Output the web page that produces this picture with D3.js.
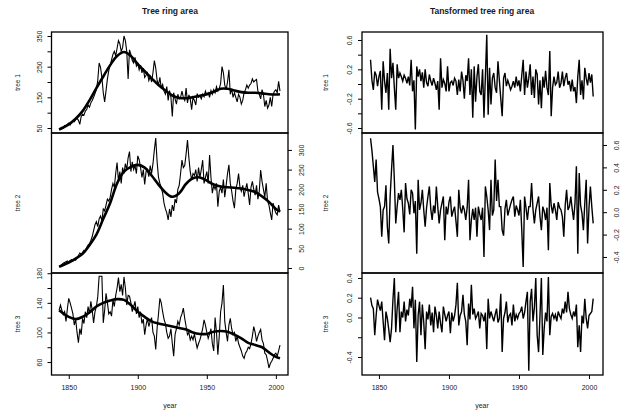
<!DOCTYPE html>
<meta charset='utf-8'>
<head>
  <title>Tree ring area</title>
  <style>
    body { margin: 0; background: #fff; }
    svg text { font-family: 'Liberation Sans', Arial, sans-serif; fill: #1a1a1a; }
  </style>
</head>
<body>
<div id='chart'></div>
<script src='https://d3js.org/d3.v7.min.js'></script>
<script>

// ring area, one value per year from 1843 to 2003
var tree1 = [
  44, 48, 52, 50, 58, 55, 62,
  66, 60, 68, 72, 70, 78, 82, 75, 62, 88,
  95, 92, 105, 110, 125, 118, 132, 140, 150, 162,
  175, 205, 262, 248, 215, 165, 135, 172, 210, 238,
  255, 272, 290, 300, 285, 310, 335, 325, 300, 312,
  350, 335, 300, 210, 305, 290, 270, 262, 280, 252,
  260, 240, 255, 230, 245, 215, 222, 230, 205, 218,
  200, 230, 270, 245, 205, 190, 215, 180, 192, 170,
  160, 185, 140, 172, 150, 88, 165, 145, 128, 160,
  145, 150, 170, 150, 140, 180, 132, 158, 145, 110,
  150, 140, 125, 162, 150, 155, 145, 160, 152, 170,
  158, 165, 150, 172, 160, 175, 165, 185, 170, 178,
  195, 250, 230, 190, 175, 200, 240, 160, 178, 150,
  165, 150, 135, 160, 150, 128, 140, 165, 175, 190,
  180, 190, 195, 210, 200, 205, 208, 170, 160, 145,
  175, 160, 120, 140, 115, 125, 150, 120, 160, 170,
  175, 165, 202, 170
];
var tree2 = [
  3, 6, 9, 12, 14, 16, 18,
  15, 19, 21, 18, 22, 20, 26, 32, 38, 35,
  40, 45, 42, 52, 58, 62, 70, 80, 95, 110,
  118, 105, 125, 132, 120, 150, 145, 160, 175, 170,
  180, 200, 215, 205, 240, 268, 220, 245, 215, 255,
  240, 265, 250, 280, 296, 245, 270, 250, 260, 240,
  285, 275, 255, 230, 250, 212, 245, 250, 232, 260,
  240, 265, 300, 330, 270, 230, 215, 205, 190, 165,
  150, 140, 122, 150, 130, 160, 145, 175, 165, 200,
  210, 240, 274, 255, 260, 290, 325, 280, 245, 224,
  240, 235, 250, 220, 255, 230, 250, 274, 215, 230,
  245, 215, 287, 230, 190, 210, 200, 215, 156, 195,
  205, 190, 225, 180, 210, 240, 262, 215, 195, 170,
  152, 200, 215, 240, 205, 195, 210, 181, 200, 215,
  190, 160, 205, 220, 200, 185, 210, 175, 195, 249,
  220, 200, 180, 215, 170, 160, 140, 122, 165, 150,
  140, 135, 160, 143
];
var tree3 = [
  130, 137, 130, 124, 128, 115, 132,
  146, 140, 133, 125, 110, 118, 100, 86, 105, 97,
  119, 112, 128, 120, 135, 125, 142, 130, 113, 128,
  135, 148, 176, 176, 176, 113, 130, 153, 140, 125,
  128, 122, 144, 135, 150, 160, 174, 155, 165, 150,
  175, 160, 137, 150, 149, 140, 128, 135, 142, 125,
  135, 120, 128, 112, 118, 97, 110, 119, 108, 115,
  120, 100, 95, 77, 106, 125, 146, 140, 128, 118,
  112, 100, 92, 95, 105, 85, 68, 97, 105, 115,
  110, 120, 125, 133, 119, 108, 97, 100, 90, 95,
  90, 98, 88, 79, 85, 90, 97, 105, 117, 110,
  100, 92, 98, 105, 85, 75, 120, 100, 70, 95,
  128, 140, 164, 115, 100, 88, 110, 119, 105, 97,
  100, 88, 95, 85, 80, 75, 68, 65, 72, 75,
  80, 78, 85, 95, 108, 100, 88, 95, 100, 104,
  90, 85, 72, 70, 62, 52, 58, 61, 65, 70,
  72, 68, 75, 83
];

// smoothed curves, read at these years
var smoothYears = [1843, 1850, 1855, 1860, 1865, 1870, 1875, 1880, 1885, 1890, 1895,
  1900, 1905, 1910, 1915, 1920, 1925, 1930, 1935, 1940, 1945, 1950, 1955,
  1960, 1965, 1970, 1975, 1980, 1985, 1990, 1995, 2000, 2003];
var tree1Smooth = [45, 62, 80, 105, 140, 180, 218, 255, 285, 298, 285,
  258, 235, 212, 190, 172, 156, 148, 147, 150, 155, 160, 168,
  178, 178, 172, 167, 165, 165, 163, 160, 159, 160];
var tree2Smooth = [3, 14, 24, 36, 58, 85, 125, 165, 215, 245, 257,
  262, 255, 235, 212, 192, 181, 190, 214, 228, 230, 222, 212,
  207, 205, 204, 202, 198, 193, 182, 168, 150, 143];
var tree3Smooth = [130, 121, 118, 121, 127, 135, 140, 143, 145, 144, 137,
  128, 121, 115, 112, 110, 108, 106, 104, 100, 98, 98, 101,
  102, 101, 97, 92, 86, 83, 80, 73, 67, 65];

// transformed series, one value per year from 1844 to 2003
var trans1 = [
  0.33, 0.05, -0.08, 0.17, 0.12, -0.03,
  0.10, 0.18, -0.35, 0.31, 0.04, -0.12, 0.15, -0.35, 0.48, 0.08,
  0.29, -0.05, -0.35, 0.27, 0.08, 0.15, 0.10, 0.04, 0.12, 0.08,
  0.01, 0.10, -0.02, 0.33, -0.10, 0.05, -0.62, 0.24, 0.10, 0.20,
  0.04, 0.16, -0.05, 0.20, 0.02, -0.03, 0.13, 0.04, -0.02, 0.08,
  0.01, -0.08, 0.04, -0.35, 0.35, -0.05, 0.06, 0.01, -0.10, 0.24,
  -0.10, 0.02, 0.04, -0.02, 0.08, 0.04, -0.15, 0.06, -0.10, 0.17,
  0.05, -0.20, 0.12, 0.04, 0.35, -0.15, 0.20, -0.46, 0.24, -0.24,
  0.10, 0.27, -0.10, -0.15, 0.20, -0.46, 0.10, 0.67, -0.42, 0.22,
  -0.28, 0.08, 0.15, -0.05, -0.12, 0.31, 0.05, -0.20, -0.44, 0.08,
  0.15, -0.03, 0.05, -0.01, -0.08, -0.03, 0.04, -0.05, 0.10, -0.03,
  0.05, -0.10, 0.12, 0.33, -0.15, 0.17, -0.05, 0.08, 0.27, -0.15,
  0.10, -0.19, 0.20, 0.13, -0.28, 0.05, -0.33, 0.10, -0.05, 0.18,
  -0.05, -0.15, 0.45, -0.44, -0.05, 0.10, -0.01, 0.02, 0.17, -0.05,
  0.01, 0.17, -0.03, 0.08, 0.15, -0.01, 0.04, -0.10, 0.06, -0.10,
  -0.04, -0.26, 0.10, 0.33, -0.15, 0.05, -0.21, 0.22, 0.08, -0.02,
  0.15, 0.02, 0.13, -0.17
];
var trans2 = [
  0.66, 0.55, 0.41, 0.27, 0.47, 0.18,
  0.12, 0.05, -0.22, 0.02, 0.05, 0.24, -0.13, -0.28, 0.14, 0.38,
  0.60, 0.29, -0.10, 0.05, 0.17, 0.11, 0.20, 0.03, -0.18, 0.26,
  0.12, 0.08, -0.02, 0.20, 0.17, -0.01, 0.10, -0.37, 0.29, 0.02,
  0.08, 0.20, 0.02, -0.13, 0.04, 0.14, 0.23, 0.03, -0.07, 0.06,
  -0.01, 0.23, 0.05, -0.10, 0.02, 0.08, 0.14, -0.25, 0.05, -0.02,
  0.09, 0.14, -0.04, 0.01, 0.05, -0.08, -0.22, 0.20, 0.04, -0.01,
  0.06, 0.02, -0.07, 0.04, 0.29, -0.25, -0.07, 0.03, -0.07, 0.04,
  -0.22, 0.05, -0.02, -0.07, 0.04, -0.40, 0.23, 0.14, 0.02, -0.16,
  0.29, -0.03, 0.02, 0.47, 0.10, 0.29, 0.05, 0.05, -0.16, -0.21,
  0.03, 0.11, -0.03, 0.02, 0.07, 0.11, 0.14, -0.04, 0.06, 0.02,
  -0.03, 0.11, -0.16, -0.49, 0.14, 0.04, -0.07, 0.05, 0.05, 0.26,
  0.03, -0.10, 0.02, 0.08, 0.14, -0.04, -0.16, 0.05, 0.01, -0.07,
  0.04, -0.34, 0.26, 0.06, -0.01, 0.08, 0.02, -0.07, 0.09, 0.04,
  0.02, -0.04, -0.22, 0.06, 0.20, 0.02, 0.05, 0.14, 0.03, -0.07,
  0.08, 0.41, -0.37, 0.35, 0.06, -0.01, -0.16, 0.08, 0.29, -0.28,
  0.04, 0.23, 0.05, -0.10
];
var trans3 = [
  0.20, 0.12, 0.09, -0.18, 0.02, 0.18,
  0.12, 0.07, 0.16, -0.04, -0.23, 0.06, -0.01, -0.12, -0.25, -0.11,
  0.18, 0.40, -0.15, 0.09, 0.26, -0.15, 0.06, 0.00, 0.16, -0.04,
  0.08, 0.02, 0.19, 0.10, 0.31, -0.11, 0.18, -0.45, 0.02, 0.16,
  -0.18, 0.13, -0.05, -0.32, 0.06, -0.02, 0.13, -0.08, 0.05, -0.15,
  0.11, 0.02, -0.11, 0.06, -0.06, -0.15, 0.11, 0.03, -0.04, 0.02,
  0.06, -0.16, 0.05, -0.04, 0.02, 0.13, 0.35, -0.08, 0.02, 0.06,
  0.23, 0.03, -0.04, -0.28, 0.14, -0.02, 0.33, 0.03, 0.09, -0.01,
  0.02, 0.06, -0.11, 0.04, 0.02, -0.04, 0.05, -0.32, 0.19, -0.01,
  0.06, 0.01, -0.04, 0.03, 0.09, -0.05, -0.01, 0.24, -0.35, -0.01,
  0.05, 0.16, -0.05, 0.02, 0.04, -0.08, 0.13, -0.04, 0.03, -0.01,
  0.04, 0.06, 0.11, -0.01, 0.05, 0.16, 0.26, -0.54, 0.16, 0.29,
  -0.04, 0.10, 0.40, -0.18, -0.35, 0.02, 0.40, -0.38, -0.11, 0.05,
  -0.04, 0.41, -0.18, 0.01, 0.04, -0.01, 0.03, -0.04, 0.06, 0.02,
  -0.01, 0.09, 0.04, 0.16, 0.05, 0.26, 0.09, 0.03, -0.01, 0.06,
  0.01, 0.13, -0.30, -0.08, -0.35, 0.02, -0.06, 0.19, -0.01, -0.11,
  0.02, 0.04, 0.06, 0.19
];

var rawYears = d3.range(1843, 2004),
    transYears = d3.range(1844, 2004);

// axis ticks (all) and which of them carry a label
var yearTicks = [1850, 1900, 1950, 2000];
var tree1Ticks = [50, 100, 150, 200, 250, 300, 350], tree1Labels = [50, 150, 250, 350];
var tree2Ticks = [0, 50, 100, 150, 200, 250, 300], tree2Labels = tree2Ticks;
var tree3Ticks = [60, 80, 100, 120, 140, 160, 180], tree3Labels = [60, 100, 140, 180];
var trans1Ticks = [-0.6, -0.4, -0.2, 0, 0.2, 0.4, 0.6], trans1Labels = [-0.6, -0.2, 0.2, 0.6];
var trans2Ticks = [-0.4, -0.2, 0, 0.2, 0.4, 0.6], trans2Labels = trans2Ticks;
var trans3Ticks = [-0.4, -0.2, 0, 0.2, 0.4], trans3Labels = [-0.4, 0, 0.2, 0.4];

var titles = ['Tree ring area', 'Tansformed tree ring area'];
var rowNames = ['tree 1', 'tree 2', 'tree 3'];

var width = 625, height = 412;
var cols = [
  { x0: 51.5, x1: 288, domain: [1837.5, 2008.8], cx: 170, nameX: 20 },
  { x0: 362, x1: 603, domain: [1837.9, 2010], cx: 482, nameX: 328 }
];
var rows = [[32, 133], [133, 273], [273, 375]];

var svg = d3.select('#chart').append('svg')
    .attr('width', width)
    .attr('height', height);

var panels = [
  { col: 0, row: 0, domain: [33.7, 363], values: tree1, years: rawYears, smooth: tree1Smooth,
    side: 'left', ticks: tree1Ticks, labels: tree1Labels, fmt: d3.format('d') },
  { col: 0, row: 1, domain: [-12.7, 343], values: tree2, years: rawYears, smooth: tree2Smooth,
    side: 'right', ticks: tree2Ticks, labels: tree2Labels, fmt: d3.format('d') },
  { col: 0, row: 2, domain: [42.5, 180.3], values: tree3, years: rawYears, smooth: tree3Smooth,
    side: 'left', ticks: tree3Ticks, labels: tree3Labels, fmt: d3.format('d') },
  { col: 1, row: 0, domain: [-0.668, 0.709], values: trans1, years: transYears,
    side: 'left', ticks: trans1Ticks, labels: trans1Labels, fmt: oneDec },
  { col: 1, row: 1, domain: [-0.543, 0.707], values: trans2, years: transYears,
    side: 'right', ticks: trans2Ticks, labels: trans2Labels, fmt: oneDec },
  { col: 1, row: 2, domain: [-0.582, 0.45], values: trans3, years: transYears,
    side: 'left', ticks: trans3Ticks, labels: trans3Labels, fmt: oneDec }
];

function oneDec(d) { return d.toFixed(1); }

panels.forEach(function(p) {
  var c = cols[p.col], r = rows[p.row];
  var x = d3.scaleLinear().domain(c.domain).range([c.x0, c.x1]),
      y = d3.scaleLinear().domain(p.domain).range([r[1], r[0]]);

  var line = d3.line()
      .x(function(d, i) { return x(p.years[i]); })
      .y(function(d) { return y(d); });

  svg.append('path')
      .datum(p.values)
      .attr('d', line)
      .attr('fill', 'none')
      .attr('stroke', '#000')
      .attr('stroke-width', p.col ? 1.4 : 1.1);

  if (p.smooth) {
    var smoothLine = d3.line()
        .x(function(d, i) { return x(smoothYears[i]); })
        .y(function(d) { return y(d); })
        .curve(d3.curveCatmullRom);
    svg.append('path')
        .datum(p.smooth)
        .attr('d', smoothLine)
        .attr('fill', 'none')
        .attr('stroke', '#000')
        .attr('stroke-width', 2.6);
  }

  svg.append('rect')
      .attr('x', c.x0).attr('y', r[0])
      .attr('width', c.x1 - c.x0).attr('height', r[1] - r[0])
      .attr('fill', 'none').attr('stroke', '#000').attr('stroke-width', 1.3);

  var left = p.side == 'left';
  var axis = (left ? d3.axisLeft(y) : d3.axisRight(y))
      .tickValues(p.ticks)
      .tickSize(4)
      .tickFormat(function(d) { return p.labels.indexOf(d) >= 0 ? p.fmt(d) : ''; });

  var g = svg.append('g')
      .attr('transform', 'translate(' + (left ? c.x0 : c.x1) + ',0)')
      .call(axis);
  g.select('.domain').remove();
  g.selectAll('line').attr('stroke', '#000');
  g.selectAll('text')
      .attr('transform', 'rotate(-90)')
      .attr('x', 0)
      .attr('dy', 0)
      .attr('y', left ? -10 : 16)
      .style('text-anchor', 'middle')
      .style('font-size', '7px');

  svg.append('text')
      .attr('transform', 'translate(' + c.nameX + ',' + ((r[0] + r[1]) / 2) + ') rotate(-90)')
      .attr('text-anchor', 'middle')
      .style('font-size', '6.5px')
      .text(rowNames[p.row]);

  if (p.row == 2) {
    var gx = svg.append('g')
        .attr('transform', 'translate(0,' + r[1] + ')')
        .call(d3.axisBottom(x).tickValues(yearTicks).tickSize(4).tickPadding(6).tickFormat(d3.format('d')));
    gx.select('.domain').remove();
    gx.selectAll('line').attr('stroke', '#000');
    gx.selectAll('text').style('font-size', '7px');
  }
});

cols.forEach(function(c, i) {
  svg.append('text')
      .attr('x', c.cx).attr('y', 14)
      .attr('text-anchor', 'middle')
      .style('font-size', '8.5px')
      .style('font-weight', 'bold')
      .text(titles[i]);
  svg.append('text')
      .attr('x', c.cx).attr('y', 408)
      .attr('text-anchor', 'middle')
      .style('font-size', '7px')
      .text('year');
});

</script>
</body>
